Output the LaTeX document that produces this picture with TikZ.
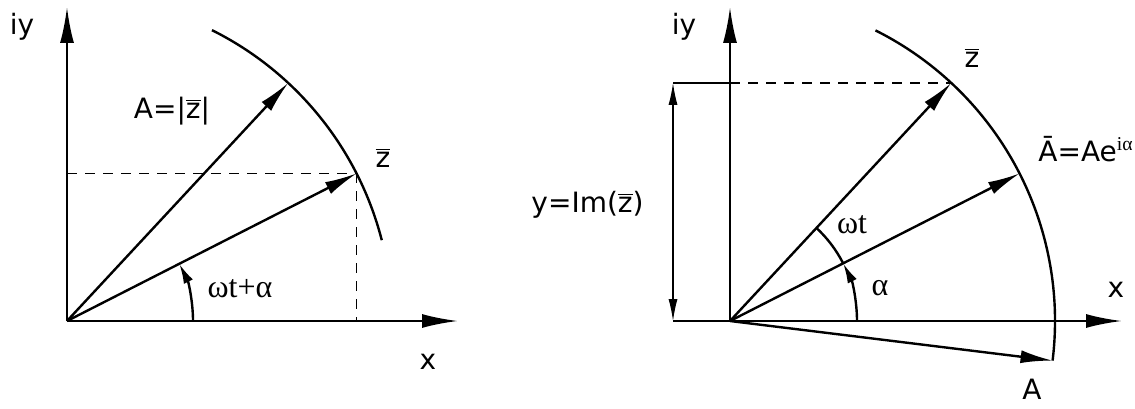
\documentclass[tikz,border=0pt]{standalone}
\usepackage{fontspec}
\setmainfont{DejaVu Sans}
\newfontfamily\grk{Liberation Serif}
\usetikzlibrary{arrows.meta,calc}

\begin{document}
\begin{tikzpicture}[
    x=0.5pt, y=0.5pt,
    % Line styles (axes, vectors, guides)
    axis/.style={line width=1.2pt, -{Latex[length=18pt,width=7pt]}},
    vec/.style={line width=1.2pt, -{Latex[length=16pt,width=6.5pt]}},
    circ/.style={line width=1.2pt},
    guide/.style={line width=0.7pt, dash pattern=on 5pt off 4pt},
    dim/.style={line width=0.6pt, {Latex[length=11pt,width=4.5pt]}-{Latex[length=11pt,width=4.5pt]}},
    angarrow/.style={line width=1.2pt, -{Latex[length=10pt,width=5pt]}},
    lbl/.style={font=\fontsize{14}{16}\selectfont, inner sep=1pt},
    glbl/.style={font=\fontsize{16}{18}\selectfont\grk, inner sep=1pt}
]
\useasboundingbox (0,0) rectangle (1135,408);

% ---------------------------------------------------------
% 1. LEFT DIAGRAM (z = A e^{i(wt+a)})
% ---------------------------------------------------------
\coordinate (O1) at (67,87);
\coordinate (Y1) at (67,401);
\coordinate (X1) at (458,87);
\path (O1) ++(47.1:325) coordinate (P1);
\path (O1) ++(27:325) coordinate (Z1);
\path (O1) ++(0:126) coordinate (W1);

\draw[axis] (O1) -- (Y1);
\draw[axis] (O1) -- (X1);
\draw[guide] (O1 |- Z1) -- (Z1);
\draw[guide] (Z1) -- (Z1 |- O1);
\draw[circ] (O1) ++(63.5:325) arc[start angle=63.5, end angle=14.4, radius=325];
\draw[vec] (O1) -- (P1);
\draw[vec] (O1) -- (Z1);
\draw[angarrow] (W1) arc[start angle=0, end angle=27, radius=126];

\node[lbl] (iy1) at (22,381) {iy};
\node[lbl] (mod1) at (172,297) {A=|\(\overline{\mbox{z}}\)|};
\node[lbl] (z1) at (383,250) {\(\overline{\mbox{z}}\)};
\node[glbl] (ang1) at (240,119) {ωt+α};
\node[lbl] (x1) at (428,46) {x};

% ---------------------------------------------------------
% 2. RIGHT DIAGRAM (projection on the imaginary axis)
% ---------------------------------------------------------
\coordinate (O2) at (730,87);
\coordinate (Y2) at (730,401);
\coordinate (X2) at (1122,87);
\coordinate (D2) at (673,87);
\path (O2) ++(47.1:325) coordinate (Z2);
\path (O2) ++(27:325) coordinate (A2);
\path (O2) ++(-7:325) coordinate (B2);
\path (O2) ++(0:127) coordinate (W2);
\path (O2) ++(27:127) coordinate (V2);

\draw[axis] (O2) -- (Y2);
\draw[axis] (O2) -- (X2);
\draw[line width=0.6pt] (D2 |- Z2) -- (O2 |- Z2);
\draw[guide] (O2 |- Z2) -- (Z2);
\draw[line width=0.6pt] (D2) -- (O2);
\draw[dim] (D2) -- (D2 |- Z2);
\draw[circ] (O2) ++(63.4:325) arc[start angle=63.4, end angle=-7, radius=325];
\draw[vec] (O2) -- (Z2);
\draw[vec] (O2) -- (A2);
\draw[vec] (O2) -- (B2);
\draw[angarrow] (W2) arc[start angle=0, end angle=27, radius=127];
\draw[circ] (V2) arc[start angle=27, end angle=47.1, radius=127];

\node[lbl] (iy2) at (684,381) {iy};
\node[lbl] (z2) at (972,350) {\(\overline{\mbox{z}}\)};
\node[lbl, anchor=base west] (abar) at (1036,247) {\=A=Ae\textsuperscript{\grk iα}};
\node[glbl] (wt2) at (852,183) {ωt};
\node[glbl] (al2) at (880,120) {α};
\node[lbl] (x2) at (1116,118) {x};
\node[lbl] (a2) at (1032,19) {A};
\node[lbl, anchor=east] (im2) at (646,203) {y=Im(\(\overline{\mbox{z}}\))};

\end{tikzpicture}
\end{document}
